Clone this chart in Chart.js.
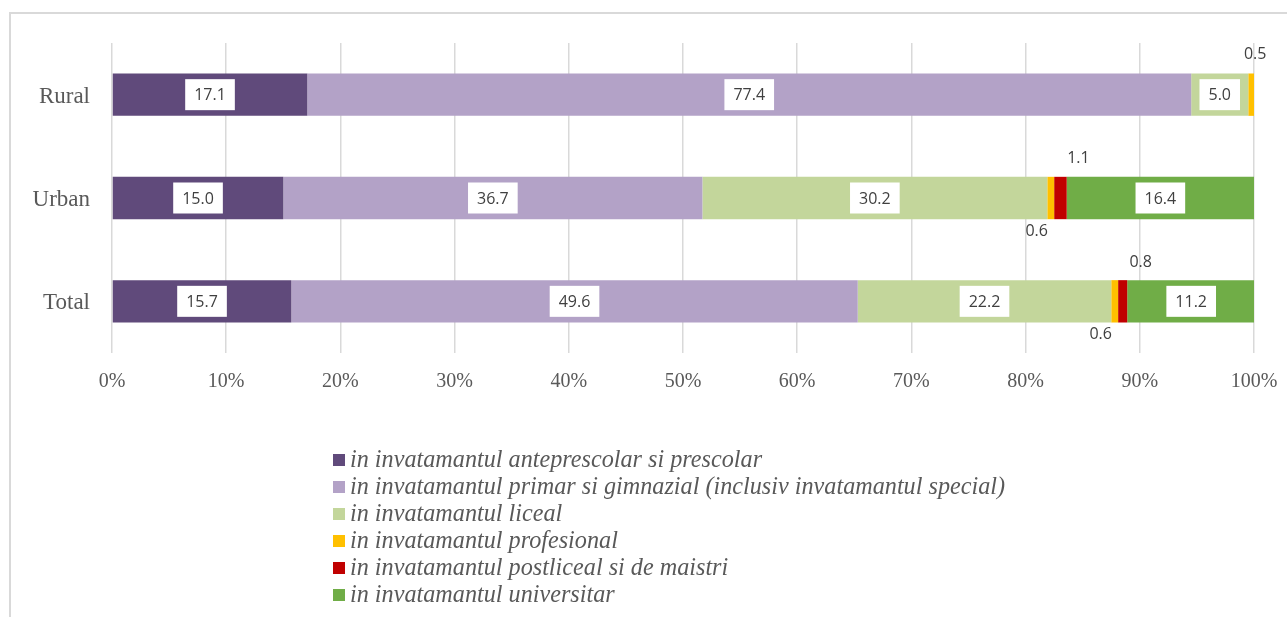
<!DOCTYPE html>
<html>
<head>
<meta charset="utf-8">
<script src="https://cdn.jsdelivr.net/npm/chart.js@4.4.1/dist/chart.umd.min.js"></script>
<style>
  html, body { margin: 0; padding: 0; background: #fff; overflow: hidden; }
  #frame {
    position: absolute; left: 9px; top: 12px; width: 1300px; height: 640px;
    border-left: 2px solid #d9d9d9; border-top: 2px solid #d9d9d9;
  }
  #wrap { position: absolute; left: 0; top: 0; width: 1287px; height: 617px; }
  #legend {
    position: absolute; left: 333px; top: 445px;
    font-family: "Liberation Serif", "Times New Roman", serif;
    font-style: italic; font-size: 24.2px; color: #595959;
  }
  .legend-item { height: 27px; line-height: 27px; white-space: nowrap; }
  .legend-box { display: inline-block; width: 12px; height: 12px; margin-right: 5px; vertical-align: 1px; }
</style>
</head>
<body>
<div id="frame"></div>
<div id="wrap"><canvas id="chart" width="1287" height="617"></canvas></div>
<div id="legend"></div>
<script>
/* Data */

const categories = ["Rural", "Urban", "Total"];

const seriesNames = [
  "in invatamantul anteprescolar si prescolar",
  "in invatamantul primar si gimnazial (inclusiv invatamantul special)",
  "in invatamantul liceal",
  "in invatamantul profesional",
  "in invatamantul postliceal si de maistri",
  "in invatamantul universitar"
];

const anteprescolar = [17.1, 15.0, 15.7];
const primarGimnazial = [77.4, 36.7, 49.6];
const liceal = [5.0, 30.2, 22.2];
const profesional = [0.5, 0.6, 0.6];
const postliceal = [0, 1.1, 0.8];
const universitar = [0, 16.4, 11.2];

const xTicks = [0, 10, 20, 30, 40, 50, 60, 70, 80, 90, 100];

const seriesColors = ["#604a7b", "#b3a2c7", "#c3d69b", "#ffc000", "#c00000", "#70ad47"];

/* Chart */

const seriesValues = [anteprescolar, primarGimnazial, liceal, profesional, postliceal, universitar];

const datasets = seriesValues.map((values, i) => ({
  label: seriesNames[i],
  data: values,
  backgroundColor: seriesColors[i],
  borderWidth: 0,
  barPercentage: 0.41,
  categoryPercentage: 1
}));

const labelFont = '16px "Open Sans", "Noto Sans", sans-serif';

// value labels: white boxes inside big segments, plain text above/below for tiny ones
const valueLabels = {
  id: "valueLabels",
  afterDatasetsDraw(chart) {
    const ctx = chart.ctx;
    ctx.save();
    ctx.font = labelFont;
    ctx.textAlign = "center";
    ctx.textBaseline = "middle";

    chart.data.datasets.forEach((ds, di) => {
      const meta = chart.getDatasetMeta(di);
      meta.data.forEach((bar, ci) => {
        const v = ds.data[ci];
        if (!v) return;
        const text = v.toFixed(1);
        const cx = (bar.x + bar.base) / 2;
        const top = bar.y - bar.height / 2;
        const bottom = bar.y + bar.height / 2;

        if (v >= 2) {
          const w = ctx.measureText(text).width + 18;
          const h = 31;
          ctx.fillStyle = "#ffffff";
          ctx.fillRect(cx - w / 2, bar.y - h / 2, w, h);
          ctx.fillStyle = "#404040";
          ctx.fillText(text, cx, bar.y + 1);
          return;
        }

        const restEmpty = seriesValues.slice(di + 1).every(s => !s[ci]);
        ctx.fillStyle = "#404040";
        if (di === 4) {
          ctx.fillText(text, cx + 18, top - 18);
        } else if (restEmpty) {
          ctx.fillText(text, cx + 4, top - 19);
        } else {
          ctx.fillText(text, cx - 14, bottom + 12);
        }
      });
    });
    ctx.restore();
  }
};

const chart = new Chart(document.querySelector("#chart"), {
  type: "bar",
  data: {
    labels: categories,
    datasets: datasets
  },
  options: {
    indexAxis: "y",
    responsive: false,
    animation: false,
    layout: {
      padding: { left: 0, right: 33, top: 43, bottom: 214 }
    },
    plugins: {
      legend: { display: false },
      tooltip: { enabled: false }
    },
    scales: {
      x: {
        stacked: true,
        min: 0,
        max: 100,
        afterBuildTicks: scale => {
          scale.ticks = xTicks.map(v => ({ value: v }));
        },
        afterFit: scale => {
          scale.height = 50;
          scale.paddingLeft = 0;
          scale.paddingRight = 0;
        },
        grid: { color: "#d9d9d9", lineWidth: 1.5, drawTicks: false },
        border: { display: false },
        ticks: {
          padding: 17,
          color: "#595959",
          font: { family: '"Liberation Serif", "Times New Roman", serif', size: 20 },
          callback: v => v + "%"
        }
      },
      y: {
        stacked: true,
        afterFit: scale => { scale.width = 112; },
        grid: { display: false, drawTicks: false },
        border: { display: false },
        ticks: {
          padding: 22,
          labelOffset: 2,
          color: "#595959",
          font: { family: '"Liberation Serif", "Times New Roman", serif', size: 23 }
        }
      }
    }
  },
  plugins: [valueLabels]
});

/* Legend */

const legendEl = document.querySelector("#legend");

chart.data.datasets.forEach(ds => {
  const item = document.createElement("div");
  item.classList.add("legend-item");
  item.innerHTML = `<span class="legend-box" style="background:${ds.backgroundColor}"></span>${ds.label}`;
  legendEl.appendChild(item);
});
</script>
</body>
</html>
